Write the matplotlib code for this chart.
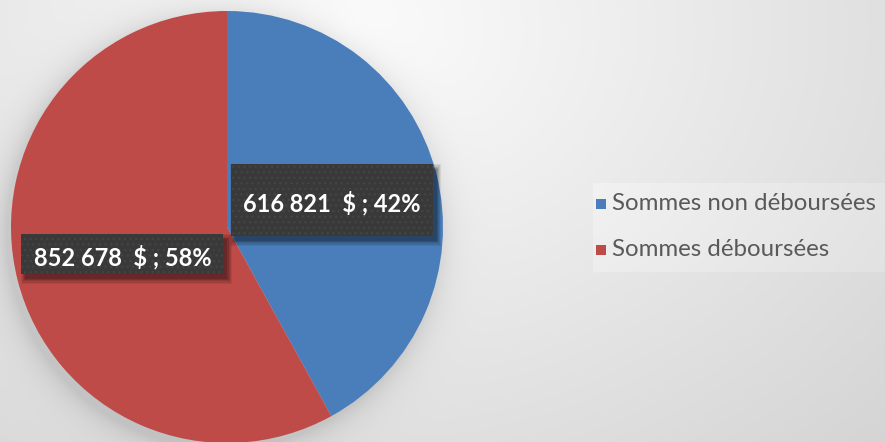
import numpy as np
import matplotlib
from matplotlib import pyplot as plt
from matplotlib.patches import Rectangle

# data
labels = ['Sommes non déboursées', 'Sommes déboursées']
values = [616821, 852678]
colors = ['#4a7ebb', '#be4b48']

W, H = 885, 442
fig = plt.figure(figsize=(W / 100, H / 100), dpi=100)

# background: soft radial gradient + faint shadow round the pie
bg = fig.add_axes([0, 0, 1, 1], zorder=0)
yy, xx = np.mgrid[0:H, 0:W]
d = np.sqrt(((xx - 350) / 1.3) ** 2 + (yy - 30) ** 2)
v = 252 - 0.068 * d
dp = np.sqrt((xx - 222) ** 2 + (yy - 232) ** 2)
v -= 28 * np.exp(-np.clip(dp - 216, 0, None) / 14)
# faint lighter panel behind the legend
v[(yy > 182) & (yy < 272) & (xx > 592)] += 6
v = np.clip(v, 0, 255) / 255.0
bg.imshow(np.dstack([v, v, v]), extent=[0, W, H, 0], aspect='auto')
bg.set_xlim(0, W)
bg.set_ylim(H, 0)
bg.axis('off')

# pie axes, radius 216 px centred at (227, 227) from top
cx, cy, R = 227, 227, 216
ax = fig.add_axes([(cx - R) / W, (H - cy - R) / H, 2 * R / W, 2 * R / H], zorder=1)
wedges, _ = ax.pie(values, colors=colors, startangle=90, counterclock=False,
                   wedgeprops=dict(linewidth=0))
ax.set_xlim(-1, 1)
ax.set_ylim(-1, 1)
ax.set_aspect('equal')
ax.axis('off')

total = sum(values)
box_h = [72, 40]
for w, val, bh in zip(wedges, values, box_h):
    ang = np.deg2rad((w.theta1 + w.theta2) / 2)
    x, y = 0.5 * np.cos(ang), 0.5 * np.sin(ang)
    bw_u, bh_u = 202 / R, bh / R
    # blurred drop shadow
    for k, a in enumerate([0.07, 0.09, 0.11, 0.13, 0.15]):
        g = (4 - k) * 1.2 / R
        ax.add_patch(Rectangle((x - bw_u / 2 + 4 / R - g, y - bh_u / 2 - 5 / R - g),
                               bw_u + 2 * g, bh_u + 2 * g, facecolor='black',
                               alpha=a, linewidth=0, zorder=3))
    ax.add_patch(Rectangle((x - bw_u / 2, y - bh_u / 2), bw_u, bh_u,
                           facecolor='#393939', edgecolor='#444444', hatch='...',
                           linewidth=0, zorder=4))
    txt = '{:,} $ ; {:.0f}%'.format(val, 100 * val / total).replace(',', ' ').replace(' $', '  $')
    ax.text(x, y - 3 / R, txt, ha='center', va='center', color='white',
            fontsize=17, fontweight='bold', family='Lato', zorder=5)

# legend
leg_y = [204, 250]
for lab, col, ly in zip(labels, colors, leg_y):
    fig.patches.append(Rectangle((596 / W, (H - ly - 5) / H), 10 / W, 10 / H,
                                 facecolor=col, linewidth=0, transform=fig.transFigure))
    fig.text(612 / W, (H - ly) / H, lab, ha='left', va='center', color='#595959',
             fontsize=17.3, family='Lato')

fig.savefig('out.png', dpi=100)
